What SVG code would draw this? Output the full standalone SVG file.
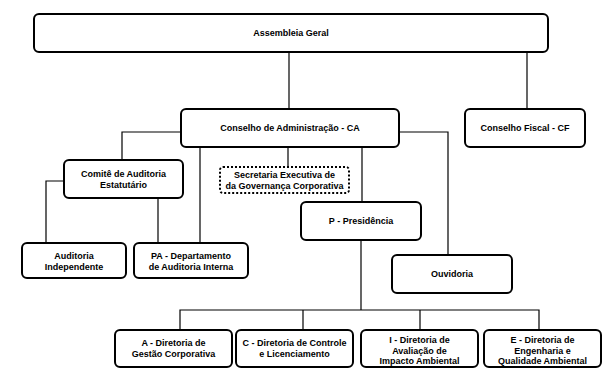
<svg xmlns="http://www.w3.org/2000/svg" width="603" height="369" viewBox="0 0 603 369">
<style>
.box{fill:#fff;stroke:#000;stroke-width:2}
.dot{fill:#fff;stroke:#000;stroke-width:2;stroke-dasharray:2 2}
.ln{fill:none;stroke:#000;stroke-width:1.2}
text{font-family:"Liberation Sans",Arial,Helvetica,sans-serif;font-weight:bold;font-size:9px;text-anchor:middle;fill:#000}
</style>
<rect width="603" height="369" fill="#fff"/>
<g id="connectors">
<path class="ln" d="M289 52V109"/>
<path class="ln" d="M527 52V109"/>
<path class="ln" d="M181 132H122V160"/>
<path class="ln" d="M64 181H46V243"/>
<path class="ln" d="M158 198V243"/>
<path class="ln" d="M200 147V243"/>
<path class="ln" d="M288 147V167"/>
<path class="ln" d="M362 147V202"/>
<path class="ln" d="M399 132H448V255"/>
<path class="ln" d="M361 240V310"/>
<path class="ln" d="M180 330V310H539V330"/>
<path class="ln" d="M303 310V330"/>
<path class="ln" d="M420 310V330"/>
</g>
<g id="assembleia"><rect class="box" x="34" y="14" width="514" height="38" rx="5"/><text x="291" y="36">Assembleia Geral</text></g>
<g id="ca"><rect class="box" x="181" y="109" width="218" height="38" rx="5"/><text x="290" y="131">Conselho de Administração - CA</text></g>
<g id="cf"><rect class="box" x="465" y="109" width="120" height="38" rx="5"/><text x="525" y="131">Conselho Fiscal - CF</text></g>
<g id="comite"><rect class="box" x="64" y="160" width="119" height="38" rx="5"/><text x="123.5" y="177">Comitê de Auditoria</text><text x="123.5" y="188">Estatutário</text></g>
<g id="secretaria"><rect class="dot" x="220" y="167" width="129" height="26" rx="3"/><text x="284.5" y="178">Secretaria Executiva de</text><text x="284.5" y="189">da Governança Corporativa</text></g>
<g id="presidencia"><rect class="box" x="301" y="202" width="120" height="38" rx="5"/><text x="361" y="224">P - Presidência</text></g>
<g id="auditoria-independente"><rect class="box" x="22" y="243" width="104" height="35" rx="5"/><text x="74" y="259">Auditoria</text><text x="74" y="270">Independente</text></g>
<g id="pa"><rect class="box" x="134" y="243" width="114" height="35" rx="5"/><text x="191" y="259">PA - Departamento</text><text x="191" y="270">de Auditoria Interna</text></g>
<g id="ouvidoria"><rect class="box" x="392" y="255" width="120" height="38" rx="5"/><text x="452" y="277">Ouvidoria</text></g>
<g id="dir-a"><rect class="box" x="115" y="330" width="117" height="37" rx="5"/><text x="173.5" y="346">A - Diretoria de</text><text x="173.5" y="357">Gestão Corporativa</text></g>
<g id="dir-c"><rect class="box" x="236" y="330" width="117" height="37" rx="5"/><text x="294.5" y="346">C - Diretoria de Controle</text><text x="294.5" y="357">e Licenciamento</text></g>
<g id="dir-i"><rect class="box" x="361" y="330" width="117" height="37" rx="5"/><text x="419.5" y="343">I - Diretoria de</text><text x="419.5" y="353.5">Avaliação de</text><text x="419.5" y="364">Impacto Ambiental</text></g>
<g id="dir-e"><rect class="box" x="484" y="330" width="117" height="37" rx="5"/><text x="542.5" y="343">E - Diretoria de</text><text x="542.5" y="353.5">Engenharia e</text><text x="542.5" y="364">Qualidade Ambiental</text></g>
</svg>
